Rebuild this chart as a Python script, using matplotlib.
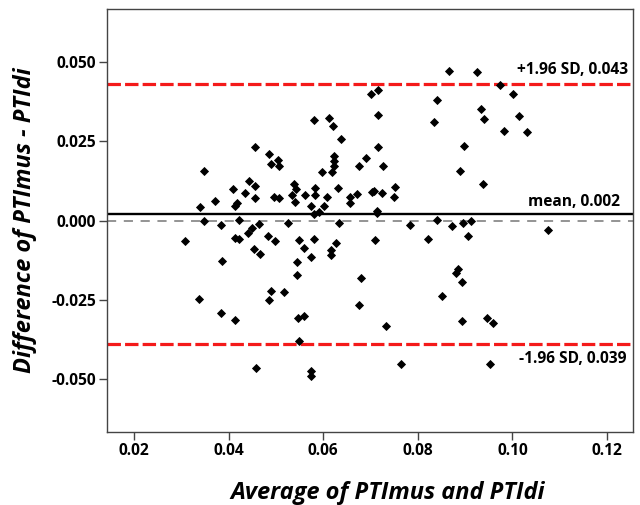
import matplotlib
matplotlib.use("Agg")
import matplotlib.pyplot as plt
from matplotlib.transforms import blended_transform_factory

plt.rcParams['font.family'] = ['Open Sans', 'DejaVu Sans']

# ---- data ----
avg = [0.0456, 0.0347, 0.0443, 0.0455, 0.0409, 0.0435, 0.0456, 0.0371, 0.0418, 0.0413,
       0.0340, 0.0349, 0.0421, 0.0384, 0.0464, 0.0450, 0.0442, 0.0307, 0.0413, 0.0422,
       0.0454, 0.0466, 0.0385, 0.0337, 0.0384, 0.0414, 0.0458,
       0.0580, 0.0612, 0.0620, 0.0637, 0.0485, 0.0490, 0.0505, 0.0507, 0.0622, 0.0623,
       0.0622, 0.0618, 0.0597, 0.0538, 0.0542, 0.0533, 0.0497, 0.0506, 0.0562, 0.0582,
       0.0582, 0.0608, 0.0631, 0.0540, 0.0574, 0.0602, 0.0581, 0.0591, 0.0525, 0.0634,
       0.0484, 0.0498, 0.0549, 0.0581, 0.0559, 0.0626, 0.0616, 0.0617, 0.0574, 0.0545,
       0.0545, 0.0490, 0.0486, 0.0518, 0.0547, 0.0559, 0.0548, 0.0574, 0.0575,
       0.0700, 0.0716, 0.0716, 0.0715, 0.0690, 0.0676, 0.0727, 0.0657, 0.0672, 0.0656,
       0.0703, 0.0708, 0.0724, 0.0752, 0.0749, 0.0714, 0.0714, 0.0784, 0.0710, 0.0680,
       0.0676, 0.0733, 0.0764,
       0.0867, 0.0925, 0.0841, 0.0835, 0.0934, 0.0941, 0.0898, 0.0890, 0.0938, 0.0841,
       0.0821, 0.0872, 0.0896, 0.0912, 0.0907, 0.0884, 0.0880, 0.0894, 0.0851, 0.0893,
       0.0947, 0.0953,
       0.0974, 0.1002, 0.1014, 0.0983, 0.1031, 0.1075, 0.0960]
diff = [0.0231, 0.0157, 0.0126, 0.0109, 0.0100, 0.0088, 0.0072, 0.0061, 0.0055, 0.0046,
        0.0042, -0.0002, 0.0003, -0.0013, -0.0009, -0.0022, -0.0038, -0.0063, -0.0055, -0.0057,
        -0.0088, -0.0105, -0.0128, -0.0246, -0.0292, -0.0312, -0.0464,
        0.0318, 0.0325, 0.0297, 0.0257, 0.0209, 0.0180, 0.0190, 0.0172, 0.0204, 0.0189,
        0.0172, 0.0154, 0.0153, 0.0116, 0.0101, 0.0082, 0.0076, 0.0071, 0.0082, 0.0103,
        0.0080, 0.0076, 0.0102, 0.0059, 0.0047, 0.0045, 0.0022, 0.0026, -0.0008, -0.0006,
        -0.0048, -0.0065, -0.0062, -0.0059, -0.0085, -0.0071, -0.0092, -0.0108, -0.0113, -0.0129,
        -0.0172, -0.0221, -0.0249, -0.0226, -0.0306, -0.0302, -0.0379, -0.0474, -0.0489,
        0.0398, 0.0411, 0.0333, 0.0231, 0.0198, 0.0173, 0.0173, 0.0075, 0.0084, 0.0055,
        0.0091, 0.0095, 0.0086, 0.0105, 0.0076, 0.0032, 0.0024, -0.0014, -0.0062, -0.0181,
        -0.0267, -0.0333, -0.0452,
        0.0472, 0.0468, 0.0379, 0.0312, 0.0351, 0.0320, 0.0235, 0.0158, 0.0115, 0.0002,
        -0.0059, -0.0016, -0.0008, 0.0000, -0.0047, -0.0153, -0.0166, -0.0192, -0.0238, -0.0316,
        -0.0306, -0.0451,
        0.0427, 0.0400, 0.0329, 0.0284, 0.0280, -0.0029, -0.0323]

mean_diff = 0.002
upper_loa = 0.043
lower_loa = -0.039

x_ticks = [0.02, 0.04, 0.06, 0.08, 0.10, 0.12]
x_tick_labels = ['0.02', '0.04', '0.06', '0.08', '0.10', '0.12']
y_ticks = [0.050, 0.025, 0.0, -0.025, -0.050]
y_tick_labels = ['0.050', '0.025', '0.000', '-0.025', '-0.050']

upper_text = '+1.96 SD, 0.043'
mean_text = 'mean, 0.002'
lower_text = '-1.96 SD, 0.039'
x_title = 'Average of PTImus and PTIdi'
y_title = 'Difference of PTImus - PTIdi'

# ---- figure ----
fig = plt.figure(figsize=(6.4, 5.05), dpi=100)
ax = fig.add_axes([107.3/640, 1-432/505, (633-107.3)/640, (432-9)/505])

ax.set_xlim(0.01435, 0.1255)
ax.set_ylim(-0.0666, 0.0667)

red = '#f41a1a'
ax.axhline(upper_loa, color=red, lw=2.3, dashes=(4.2, 1.3), zorder=2)
ax.axhline(lower_loa, color=red, lw=2.3, dashes=(4.2, 1.3), zorder=2)
ax.axhline(0.0, color='#777777', lw=1.1, dashes=(6, 5), zorder=2)
ax.axhline(mean_diff, color='black', lw=1.7, zorder=2)

ax.plot(avg, diff, linestyle='none', marker='D', markersize=3.9,
        markerfacecolor='black', markeredgecolor='black', markeredgewidth=0.6, zorder=3)

fs_small = 11.2
tr = blended_transform_factory(ax.transAxes, ax.transData)
ax.annotate(upper_text, xy=(0.9905, upper_loa), xycoords=tr, xytext=(0, 10.5),
            textcoords='offset points', ha='right', va='center', fontsize=fs_small, fontweight='bold')
ax.annotate(mean_text, xy=(0.9753, mean_diff), xycoords=tr, xytext=(0, 9),
            textcoords='offset points', ha='right', va='center', fontsize=fs_small, fontweight='bold')
ax.annotate(lower_text, xy=(0.9867, lower_loa), xycoords=tr, xytext=(0, -10.5),
            textcoords='offset points', ha='right', va='center', fontsize=fs_small, fontweight='bold')

ax.set_xticks(x_ticks)
ax.set_xticklabels(x_tick_labels)
ax.set_yticks(y_ticks)
ax.set_yticklabels(y_tick_labels)

for lab in ax.get_xticklabels() + ax.get_yticklabels():
    lab.set_fontweight('bold')
    lab.set_fontsize(fs_small)

spine_c = '#444444'
for s in ax.spines.values():
    s.set_color(spine_c)
    s.set_linewidth(1.0)
ax.tick_params(axis='both', direction='out', length=6, width=1.0, color=spine_c, pad=2)

ax.set_xlabel(x_title, fontsize=17, fontweight='bold', style='italic')
ax.set_ylabel(y_title, fontsize=17, fontweight='bold', style='italic')
ax.xaxis.set_label_coords((388-107.3)/525.7, -(493-432)/423, transform=ax.transAxes)
ax.yaxis.set_label_coords(-(107.3-25)/525.7, 0.5, transform=ax.transAxes)
ax.xaxis.label.set_va('center')
ax.yaxis.label.set_va('center')

fig.savefig('out.png', dpi=100)
